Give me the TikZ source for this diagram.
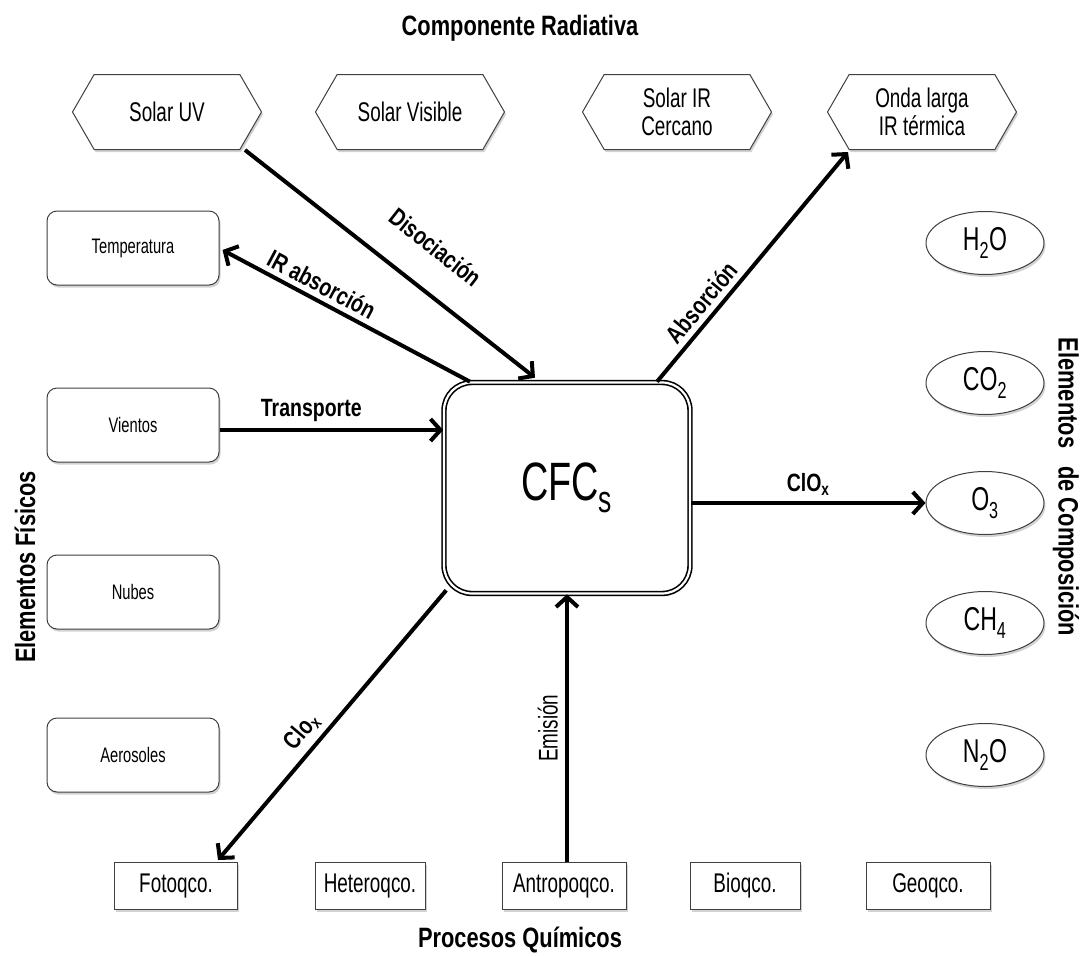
\documentclass[tikz,border=0pt]{standalone}
\usepackage{fontspec}
\setmainfont{Liberation Sans}[FakeStretch=0.78]
\newfontfamily\condfont{Liberation Sans}[FakeStretch=0.7]
\usetikzlibrary{shapes.symbols,shapes.geometric,shadows,calc,arrows.meta}
\begin{document}
\begin{tikzpicture}[x=1pt,y=-1pt,
  shad/.style={drop shadow={opacity=0.35,shadow xshift=1.5pt,shadow yshift=-2.5pt}},
  hexa/.style={signal, signal to=west and east, signal pointer angle=120, draw=black!75, line width=1pt, fill=white, minimum width=189pt, minimum height=75pt, inner sep=0pt, shad, align=center, font=\condfont\fontsize{27}{28}\selectfont},
  physbox/.style={rectangle, rounded corners=10pt, draw=black!75, line width=1pt, fill=white, minimum width=172pt, minimum height=74pt, shad, font=\condfont\fontsize{21}{24}\selectfont},
  compo/.style={ellipse, draw=black!75, line width=1pt, fill=white, minimum width=118pt, minimum height=63pt, shad, inner sep=0pt, font=\condfont\fontsize{33}{36}\selectfont},
  procbox/.style={rectangle, draw=black!75, line width=1pt, fill=white, minimum height=47pt, inner sep=0pt, shad, font=\condfont\fontsize{27}{30}\selectfont},
  conn/.style={line width=4pt, -{Straight Barb[length=10pt,width=22pt]}},
  lab/.style={font=\bfseries\fontsize{25}{28}\selectfont, inner sep=2pt},
  title/.style={font=\bfseries\fontsize{28}{32}\selectfont}
]
\useasboundingbox (0,0) rectangle (1080,956);
\fill[white] (0,0) rectangle (1080,956);

% titles
\node[title] (tRad) at (520,28) {Componente Radiativa};
\node[title] (tQui) at (520,940) {Procesos Químicos};
\node[title, rotate=90] (tFis) at (25,567) {Elementos Físicos};
\node[title, rotate=-90] (tCom) at (1066,487) {Elementos\ \ \ de Composición};

% radiative
\node[hexa] (uv) at (167,112) {Solar UV};
\node[hexa] (vis) at (410,112) {Solar Visible};
\node[hexa] (irc) at (677,112) {Solar IR\\Cercano};
\node[hexa] (ol) at (922,112) {Onda larga\\IR térmica};

% physical
\node[physbox] (temp) at (133,248) {Temperatura};
\node[physbox] (vien) at (133,425) {Vientos};
\node[physbox] (nub) at (133,592) {Nubes};
\node[physbox] (aer) at (133,755) {Aerosoles};

% composition
\node[compo] (h2o) at (985,243) {H\textsubscript{2}O};
\node[compo] (co2) at (985,383) {CO\textsubscript{2}};
\node[compo] (o3) at (985,503) {O\textsubscript{3}};
\node[compo] (ch4) at (985,623) {CH\textsubscript{4}};
\node[compo] (n2o) at (985,755) {N\textsubscript{2}O};

% chemical processes
\node[procbox, minimum width=123pt] (foto) at (176,886) {Fotoqco.};
\node[procbox, minimum width=110pt] (het) at (370,886) {Heteroqco.};
\node[procbox, minimum width=124pt] (ant) at (564,886) {Antropoqco.};
\node[procbox, minimum width=110pt] (bio) at (745,886) {Bioqco.};
\node[procbox, minimum width=124pt] (geo) at (928,886) {Geoqco.};

% central
\node[draw, double, line width=1.6pt, double distance=2.2pt, rounded corners=28pt, minimum width=246pt, minimum height=211pt, fill=white, shad] (cfc) at (567,488) {\condfont\fontsize{54}{60}\selectfont CFC\textsubscript{s}};

% connectors
\draw[conn] ($(uv.south)+(78,0)$) -- node[lab, sloped, above=28pt, pos=0.57] {Disociación} ($(cfc.north)+(-32,-4)$);
\draw[conn] ($(cfc.north)+(-97,0)$) -- node[lab, sloped, above=3pt, pos=0.63] {IR absorción} ($(temp.east)+(3,2)$);
\draw[conn] ($(vien.east)+(0,5)$) -- node[lab, above=4pt, pos=0.41] {Transporte} ($(cfc.west)+(0,-58)$);
\draw[conn] ($(cfc.north)+(90,0)$) -- node[lab, sloped, above=3pt, pos=0.3] {Absorción} ($(ol.south)+(-74,2)$);
\draw[conn] ($(cfc.east)+(0,15)$) -- node[lab, above=4pt, pos=0.5] {ClO\textsubscript{x}} (o3.west);
\draw[conn] ($(cfc.south west)+(3,-4)$) -- node[lab, sloped, above=4pt, pos=0.57] {Clo\textsubscript{x}} ($(foto.north)+(42,-2)$);
\draw[conn] ($(ant.north)+(3,0)$) -- node[lab, sloped, above=5pt, pos=0.5, font=\condfont\fontsize{27}{30}\selectfont] {Emisión} (cfc.south);
\end{tikzpicture}
\end{document}
